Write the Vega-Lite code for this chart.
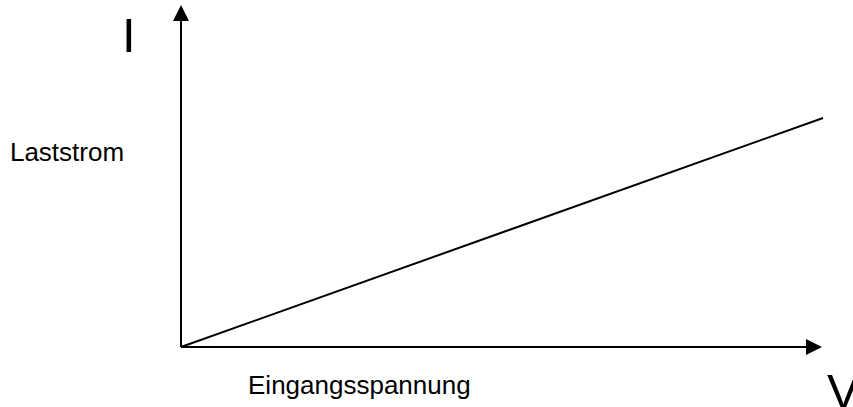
{
  "$schema": "https://vega.github.io/schema/vega-lite/v6.json",
  "autosize": "none",
  "width": 853,
  "height": 407,
  "padding": 0,
  "background": "white",
  "config": {"view": {"stroke": null}},
  "datasets": {
    "kennlinie": [
      {"U": 0, "I": 0},
      {"U": 10, "I": 6.696}
    ],
    "achsen": [
      {"achse": "I", "x1": 0, "y1": 0, "x2": 0, "y2": 9.6},
      {"achse": "V", "x1": 0, "y1": 0, "x2": 9.75, "y2": 0}
    ],
    "pfeile": [
      {"achse": "I", "x": 0, "y": 9.766, "form": "M0,-1L-1,1L1,1Z"},
      {"achse": "V", "x": 9.86, "y": 0, "form": "M1,0L-1,-1L-1,1Z"}
    ],
    "beschriftung": [
      {"text": "I", "x": -0.919, "y": 8.626, "groesse": "gross"},
      {"text": "Laststrom", "x": -2.664, "y": 5.439, "groesse": "klein"},
      {"text": "Eingangsspannung", "x": 1.044, "y": -1.374, "groesse": "klein"},
      {"text": "V", "x": 10.062, "y": -1.784, "groesse": "gross"}
    ]
  },
  "layer": [
    {
      "data": {"name": "achsen"},
      "mark": {"type": "rule", "color": "black", "strokeWidth": 2},
      "encoding": {
        "x": {"field": "x1", "type": "quantitative", "scale": {"domain": [-2.819, 10.467], "nice": false, "zero": false}, "axis": null},
        "x2": {"field": "x2"},
        "y": {"field": "y1", "type": "quantitative", "scale": {"domain": [-1.754, 10.146], "nice": false, "zero": false}, "axis": null},
        "y2": {"field": "y2"}
      }
    },
    {
      "data": {"name": "kennlinie"},
      "mark": {"type": "line", "color": "black", "strokeWidth": 2},
      "encoding": {
        "x": {"field": "U", "type": "quantitative"},
        "y": {"field": "I", "type": "quantitative"}
      }
    },
    {
      "data": {"name": "pfeile"},
      "mark": {"type": "point", "filled": true, "color": "black", "opacity": 1, "size": 256},
      "encoding": {
        "x": {"field": "x", "type": "quantitative"},
        "y": {"field": "y", "type": "quantitative"},
        "shape": {"field": "form", "type": "nominal", "scale": null}
      }
    },
    {
      "data": {"name": "beschriftung"},
      "mark": {"type": "text", "align": "left", "baseline": "alphabetic", "font": "Liberation Sans", "color": "black"},
      "encoding": {
        "x": {"field": "x", "type": "quantitative"},
        "y": {"field": "y", "type": "quantitative"},
        "text": {"field": "text"},
        "size": {"field": "groesse", "type": "nominal", "scale": {"domain": ["gross", "klein"], "range": [49, 26]}, "legend": null}
      }
    }
  ]
}
